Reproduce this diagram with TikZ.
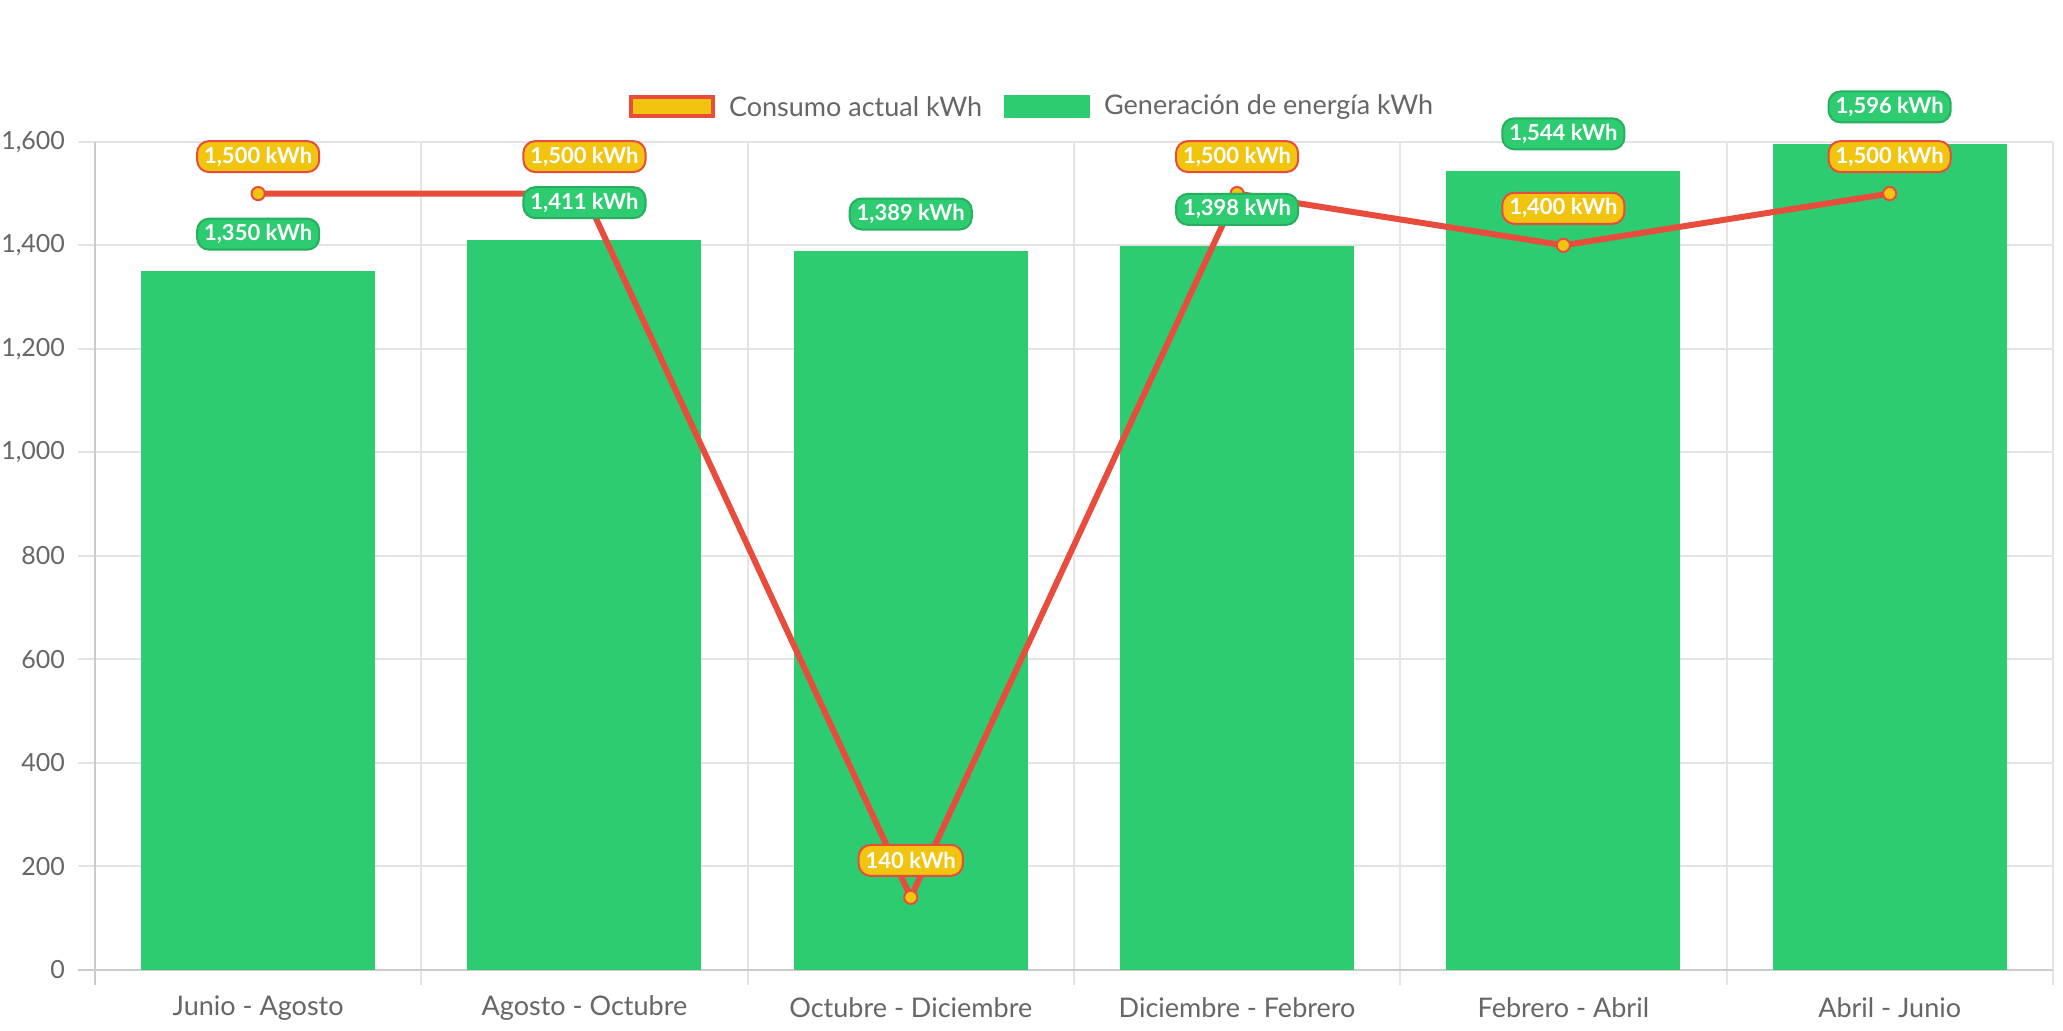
\documentclass[tikz,border=0pt]{standalone}
\usepackage{fontspec}
\setmainfont{Lato}
\definecolor{verde}{HTML}{2ECC71}
\definecolor{verdeosc}{HTML}{27AE60}
\definecolor{amarillo}{HTML}{F1C40F}
\definecolor{rojo}{HTML}{E74C3C}
\definecolor{gris}{HTML}{E4E4E4}
\definecolor{grisosc}{HTML}{CCCCCC}
\definecolor{texto}{HTML}{666666}

\tikzset{
  rejilla/.style={draw=gris, line width=1pt},
  eje/.style={draw=grisosc, line width=1pt},
  etiqueta/.style={font=\fontsize{13.5}{16}\selectfont, text=texto},
  marca/.style={font=\fontsize{12.5}{15}\selectfont, text=texto},
  valor/.style={rounded corners=6pt, line width=1pt, text=white,
    font=\bfseries\fontsize{11}{13}\selectfont, minimum height=15.5pt,
    inner xsep=3.5pt, inner ysep=0pt},
  consumo/.style={valor, fill=amarillo, draw=rojo},
  generacion/.style={valor, fill=verde, draw=verdeosc},
  serie/.style={draw=rojo, line width=3pt},
  punto/.style={fill=amarillo, draw=rojo, line width=1pt},
}

\begin{document}
\begin{tikzpicture}[x=0.5pt,y=-0.5pt]
\fill[white] (0,0) rectangle (2063,1030);
\useasboundingbox (0,0) rectangle (2063,1030);

% leyenda
\draw[fill=amarillo, draw=rojo, line width=2pt] (631,97) rectangle (713,116);
\node[etiqueta, anchor=west] (leyc) at (722,107) {Consumo actual kWh};
\fill[verde] (1004,95) rectangle (1090,118);
\node[etiqueta, anchor=west] (leyg) at (1097,107) {Generación de energía kWh};

\begin{scope}[shift={(95,969.8)}, x=163.15pt, y=0.25875pt]
% rejilla
\foreach \v in {200,400,...,1600}
  \draw[rejilla] (-0.052,\v) -- (6,\v);
\foreach \i in {1,...,6}
  \draw[rejilla] (\i,-29) -- (\i,1600);
\draw[eje] (0,-29) -- (0,1600);
\draw[eje] (-0.052,0) -- (6,0);

% barras
\foreach \b [count=\i from 0] in {1350,1411,1389,1398,1544,1596}
  \fill[verde] (\i+0.1415,0) rectangle (\i+0.8585,\b);

% linea de consumo
\foreach \c [count=\i from 0] in {1500,1500,140,1500,1400,1500}
  \coordinate (c\i) at (\i+0.5,\c);
\draw[serie] (c0) -- (c1) -- (c2) -- (c3) -- (c4) -- (c5);
\foreach \i in {0,...,5}
  \draw[punto] (c\i) circle (3.3pt);

% etiquetas de valores
\foreach \b/\t [count=\i from 0] in {1350/{1,350},1411/{1,411},1389/{1,389},1398/{1,398},1544/{1,544},1596/{1,596}}
  \node[generacion, yshift=18.5pt] (g\i) at (\i+0.5,\b) {\t\ kWh};
\foreach \c/\t [count=\i from 0] in {1500/{1,500},1500/{1,500},140/140,1500/{1,500},1400/{1,400},1500/{1,500}}
  \node[consumo, yshift=18.5pt] (v\i) at (\i+0.5,\c) {\t\ kWh};

% ejes
\foreach \v/\t in {0/0,200/200,400/400,600/600,800/800,1000/{1,000},1200/{1,200},1400/{1,400},1600/{1,600}}
  \node[marca, anchor=east, xshift=-11.5pt] (y\v) at (0,\v) {\t};
\foreach \t [count=\i from 0] in {Junio - Agosto,Agosto - Octubre,Octubre - Diciembre,Diciembre - Febrero,Febrero - Abril,Abril - Junio}
  \node[etiqueta, yshift=-19pt] (x\i) at (\i+0.5,0) {\t};
\end{scope}
\end{tikzpicture}
\end{document}
